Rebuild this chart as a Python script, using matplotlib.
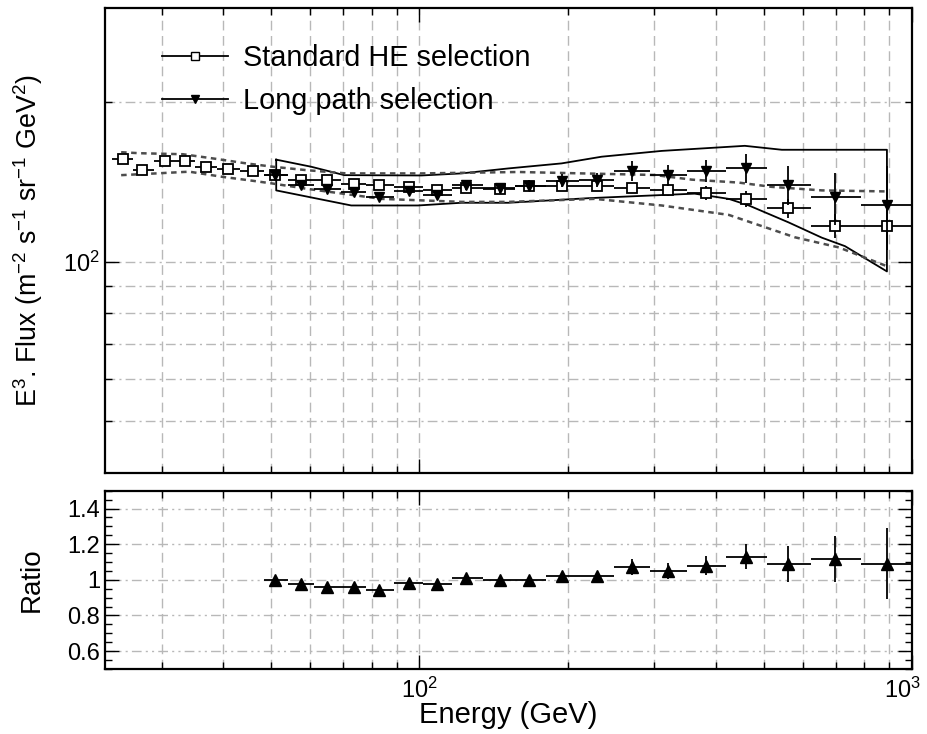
import numpy as np
import matplotlib.pyplot as plt
from matplotlib.lines import Line2D
from matplotlib.transforms import ScaledTranslation
from matplotlib.ticker import FixedLocator, FixedFormatter, NullFormatter, MultipleLocator

plt.rcParams['font.family'] = ['Liberation Sans', 'DejaVu Sans']
plt.rcParams['mathtext.fontset'] = 'custom'
plt.rcParams['mathtext.rm'] = 'Liberation Sans'
plt.rcParams['mathtext.it'] = 'Liberation Sans:italic'
plt.rcParams['mathtext.default'] = 'regular'

# DATA
bin_edges = [23.8, 26.2, 28.9, 31.9, 35.1, 38.8, 43.3, 48.4, 54.1, 61.1, 69.2, 78.0,
             88.7, 101.7, 116.4, 134.7, 156.1, 180.5, 211.3, 248.5, 293.3, 348.7,
             419.0, 508.0, 625.0, 788.0, 1000.0]
energy = [25.0, 27.4, 30.5, 33.5, 36.9, 40.9, 45.9, 51.0, 57.4, 65.0, 73.5, 82.7,
          95.1, 108.8, 124.6, 145.6, 167.0, 195.0, 229.0, 270.0, 319.0, 381.0,
          460.0, 560.0, 698.0, 890.0]
flux_std = [156.0, 148.6, 154.6, 154.6, 150.8, 149.3, 147.9, 145.4, 142.4, 142.2,
            139.7, 139.1, 138.2, 136.5, 137.5, 137.0, 138.8, 138.8, 138.8, 137.5,
            136.5, 134.6, 131.2, 126.0, 116.7, 116.4]
flux_std_err = [3, 2.5, 2.5, 2.5, 2.5, 2.5, 2.5, 2, 2, 2, 2, 2, 2, 2, 2, 2, 2,
                2.5, 2.5, 3, 3.5, 4, 4.5, 5, 6, 8]

# long path selection starts at the 8th bin
lp_first = 7
flux_lp = [145.5, 139.5, 137.0, 135.0, 132.0, 136.0, 133.5, 139.5, 137.5, 139.0,
           142.0, 142.5, 148.0, 145.5, 148.0, 150.0, 139.5, 132.0, 128.0]
flux_lp_err = [1.5, 1.5, 1.5, 1.5, 2, 2, 2.5, 3, 3, 3.5, 4, 4.5, 6.5, 6.5, 7,
               9.5, 11.5, 15, 23]

ratio = [1.00, 0.975, 0.96, 0.96, 0.945, 0.98, 0.975, 1.01, 1.00, 1.00, 1.02,
         1.02, 1.07, 1.05, 1.08, 1.13, 1.09, 1.115, 1.09]
ratio_err = [0.015, 0.015, 0.015, 0.015, 0.015, 0.015, 0.015, 0.015, 0.015, 0.015,
             0.02, 0.02, 0.045, 0.045, 0.055, 0.07, 0.10, 0.13, 0.20]

# systematic band (solid)
sys_up_e = [51.2, 60.3, 70.4, 101.0, 121.7, 151.6, 194.4, 234.4, 310.2, 457.7, 544.2, 889.5]
sys_up_f = [155.5, 150.8, 145.4, 145.2, 146.5, 149.7, 153.0, 157.5, 161.5, 165.1, 162.3, 162.3]
sys_lo_e = [51.2, 72.7, 99.4, 121.7, 151.6, 220.6, 362.0, 424.6, 466.4, 561.5, 656.0, 731.0, 889.5]
sys_lo_f = [136.1, 127.5, 127.5, 129.0, 129.0, 131.6, 134.2, 131.2, 127.5, 118.5, 110.9, 106.9, 95.8]

# dotted band
dot_up_e = [24.8, 27.0, 33.1, 38.7, 44.5, 50.4, 58.9, 71.1, 101.0, 158.9, 300.3, 357.2,
            444.6, 519.3, 656.6, 889.5]
dot_up_f = [160.6, 159.9, 159.2, 156.0, 153.0, 150.8, 148.6, 146.5, 146.5, 147.4, 145.5,
            142.6, 140.8, 138.2, 136.1, 135.5]
dot_lo_e = [24.8, 29.2, 34.1, 39.9, 45.1, 50.4, 58.9, 83.7, 121.7, 151.6, 226.8, 310.2,
            424.6, 578.0, 710.6, 889.5]
dot_lo_f = [145.4, 146.5, 147.6, 144.3, 142.2, 140.2, 137.1, 131.2, 129.5, 129.5, 131.2,
            127.5, 122.4, 111.1, 106.3, 98.0]

x_major = [100, 1000]
x_minor = [30, 40, 50, 60, 70, 80, 90, 200, 300, 400, 500, 600, 700, 800, 900]
x_labels = ['$10^{2}$', '$10^{3}$']

edges = np.array(bin_edges)
e = np.array(energy)
xerr_std = [e - edges[:-1], edges[1:] - e]
e_lp = e[lp_first:]
xerr_lp = [e_lp - edges[lp_first:-1], edges[lp_first + 1:] - e_lp]

GRID = '#b8b8b8'
TICK_FS = 17
LAB_FS = 19.3

fig = plt.figure(figsize=(9.27, 7.34), dpi=100)
ax = fig.add_axes([0.1133, 0.3556, 0.8705, 0.6335])
axr = fig.add_axes([0.1133, 0.0886, 0.8705, 0.2429])


def style_x(a):
    a.set_xscale('log')
    a.set_xlim(23, 1000)
    a.xaxis.set_major_locator(FixedLocator(x_major))
    a.xaxis.set_minor_locator(FixedLocator(x_minor))
    a.xaxis.set_minor_formatter(NullFormatter())
    a.grid(True, which='both', axis='x', color=GRID, lw=1.0, ls=(0, (7, 4)))
    a.tick_params(which='both', direction='in', top=True, right=True, width=1.0,
                  labelsize=TICK_FS)
    a.tick_params(which='major', length=10)
    a.tick_params(which='minor', length=5)
    for s in a.spines.values():
        s.set_linewidth(1.6)
    a.set_axisbelow(True)


# top panel
style_x(ax)
ax.set_yscale('log')
ax.set_ylim(40, 300)
ax.yaxis.set_major_locator(FixedLocator([100]))
ax.yaxis.set_major_formatter(FixedFormatter(['$10^{2}$']))
ax.yaxis.set_minor_locator(FixedLocator([50, 60, 70, 80, 90, 200]))
ax.yaxis.set_minor_formatter(NullFormatter())
ax.grid(True, which='both', axis='y', color=GRID, lw=1.0, ls=(0, (7, 3, 1.5, 3)))
ax.tick_params(axis='x', labelbottom=False)
ax.tick_params(axis='y', which='minor', length=5)
ax.tick_params(axis='y', which='major', length=10)

ax.plot(sys_up_e + sys_lo_e[::-1] + sys_up_e[:1], sys_up_f + sys_lo_f[::-1] + sys_up_f[:1],
        color='k', lw=1.3)
ax.plot(dot_up_e, dot_up_f, color='0.3', lw=1.8, ls=(0, (2.2, 1.8)))
ax.plot(dot_lo_e, dot_lo_f, color='0.3', lw=1.8, ls=(0, (2.2, 1.8)))

ax.errorbar(e, flux_std, xerr=xerr_std, yerr=flux_std_err, fmt='s', color='k',
            mfc='white', mec='k', mew=1.3, ms=7, elinewidth=1.3, capsize=0, zorder=4)
ax.errorbar(e_lp, flux_lp, xerr=xerr_lp, yerr=flux_lp_err, fmt='v', color='k',
            mfc='k', mec='k', ms=7, elinewidth=1.3, capsize=0, zorder=5)

handles = [Line2D([], [], color='k', lw=1.3, marker='s', mfc='white', mec='k', ms=6),
           Line2D([], [], color='k', lw=1.3, marker='v', mfc='k', mec='k', ms=6)]
ax.legend(handles, ['Standard HE selection', 'Long path selection'],
          loc='upper left', bbox_to_anchor=(0.0706, 0.922), frameon=False,
          fontsize=20.8, handlelength=2.3, handletextpad=0.5, labelspacing=0.52,
          borderpad=0, borderaxespad=0)

ax.set_ylabel('E$^{3}$. Flux (m$^{-2}$ s$^{-1}$ sr$^{-1}$ GeV$^{2}$)', fontsize=LAB_FS)
ax.yaxis.set_label_coords(-0.075, 0.5)

# ratio panel
style_x(axr)
axr.set_ylim(0.5, 1.5)
axr.yaxis.set_major_locator(FixedLocator([0.6, 0.8, 1.0, 1.2, 1.4]))
axr.yaxis.set_major_formatter(FixedFormatter(['0.6', '0.8', '1', '1.2', '1.4']))
axr.yaxis.set_minor_locator(MultipleLocator(0.05))
axr.grid(True, which='major', axis='y', color=GRID, lw=1.0,
         ls=(0, (7, 3, 1.5, 3, 1.5, 3)))
axr.xaxis.set_major_formatter(FixedFormatter(x_labels))
axr.tick_params(axis='x', pad=6)

axr.errorbar(e_lp, ratio, xerr=xerr_lp, yerr=ratio_err, fmt='^', color='k',
             mfc='k', mec='k', ms=8, elinewidth=1.3, capsize=0, zorder=5)

axr.set_ylabel('Ratio', fontsize=20)
axr.yaxis.set_label_coords(-0.075, 0.5)
axr.set_xlabel('Energy (GeV)', fontsize=21, labelpad=-1)

# keep the 10^3 label inside the canvas
fig.canvas.draw()
last = axr.xaxis.get_major_ticks()[-1].label1
last.set_transform(last.get_transform() + ScaledTranslation(-7 / 72, 0, fig.dpi_scale_trans))

fig.savefig('out.png', dpi=100)
